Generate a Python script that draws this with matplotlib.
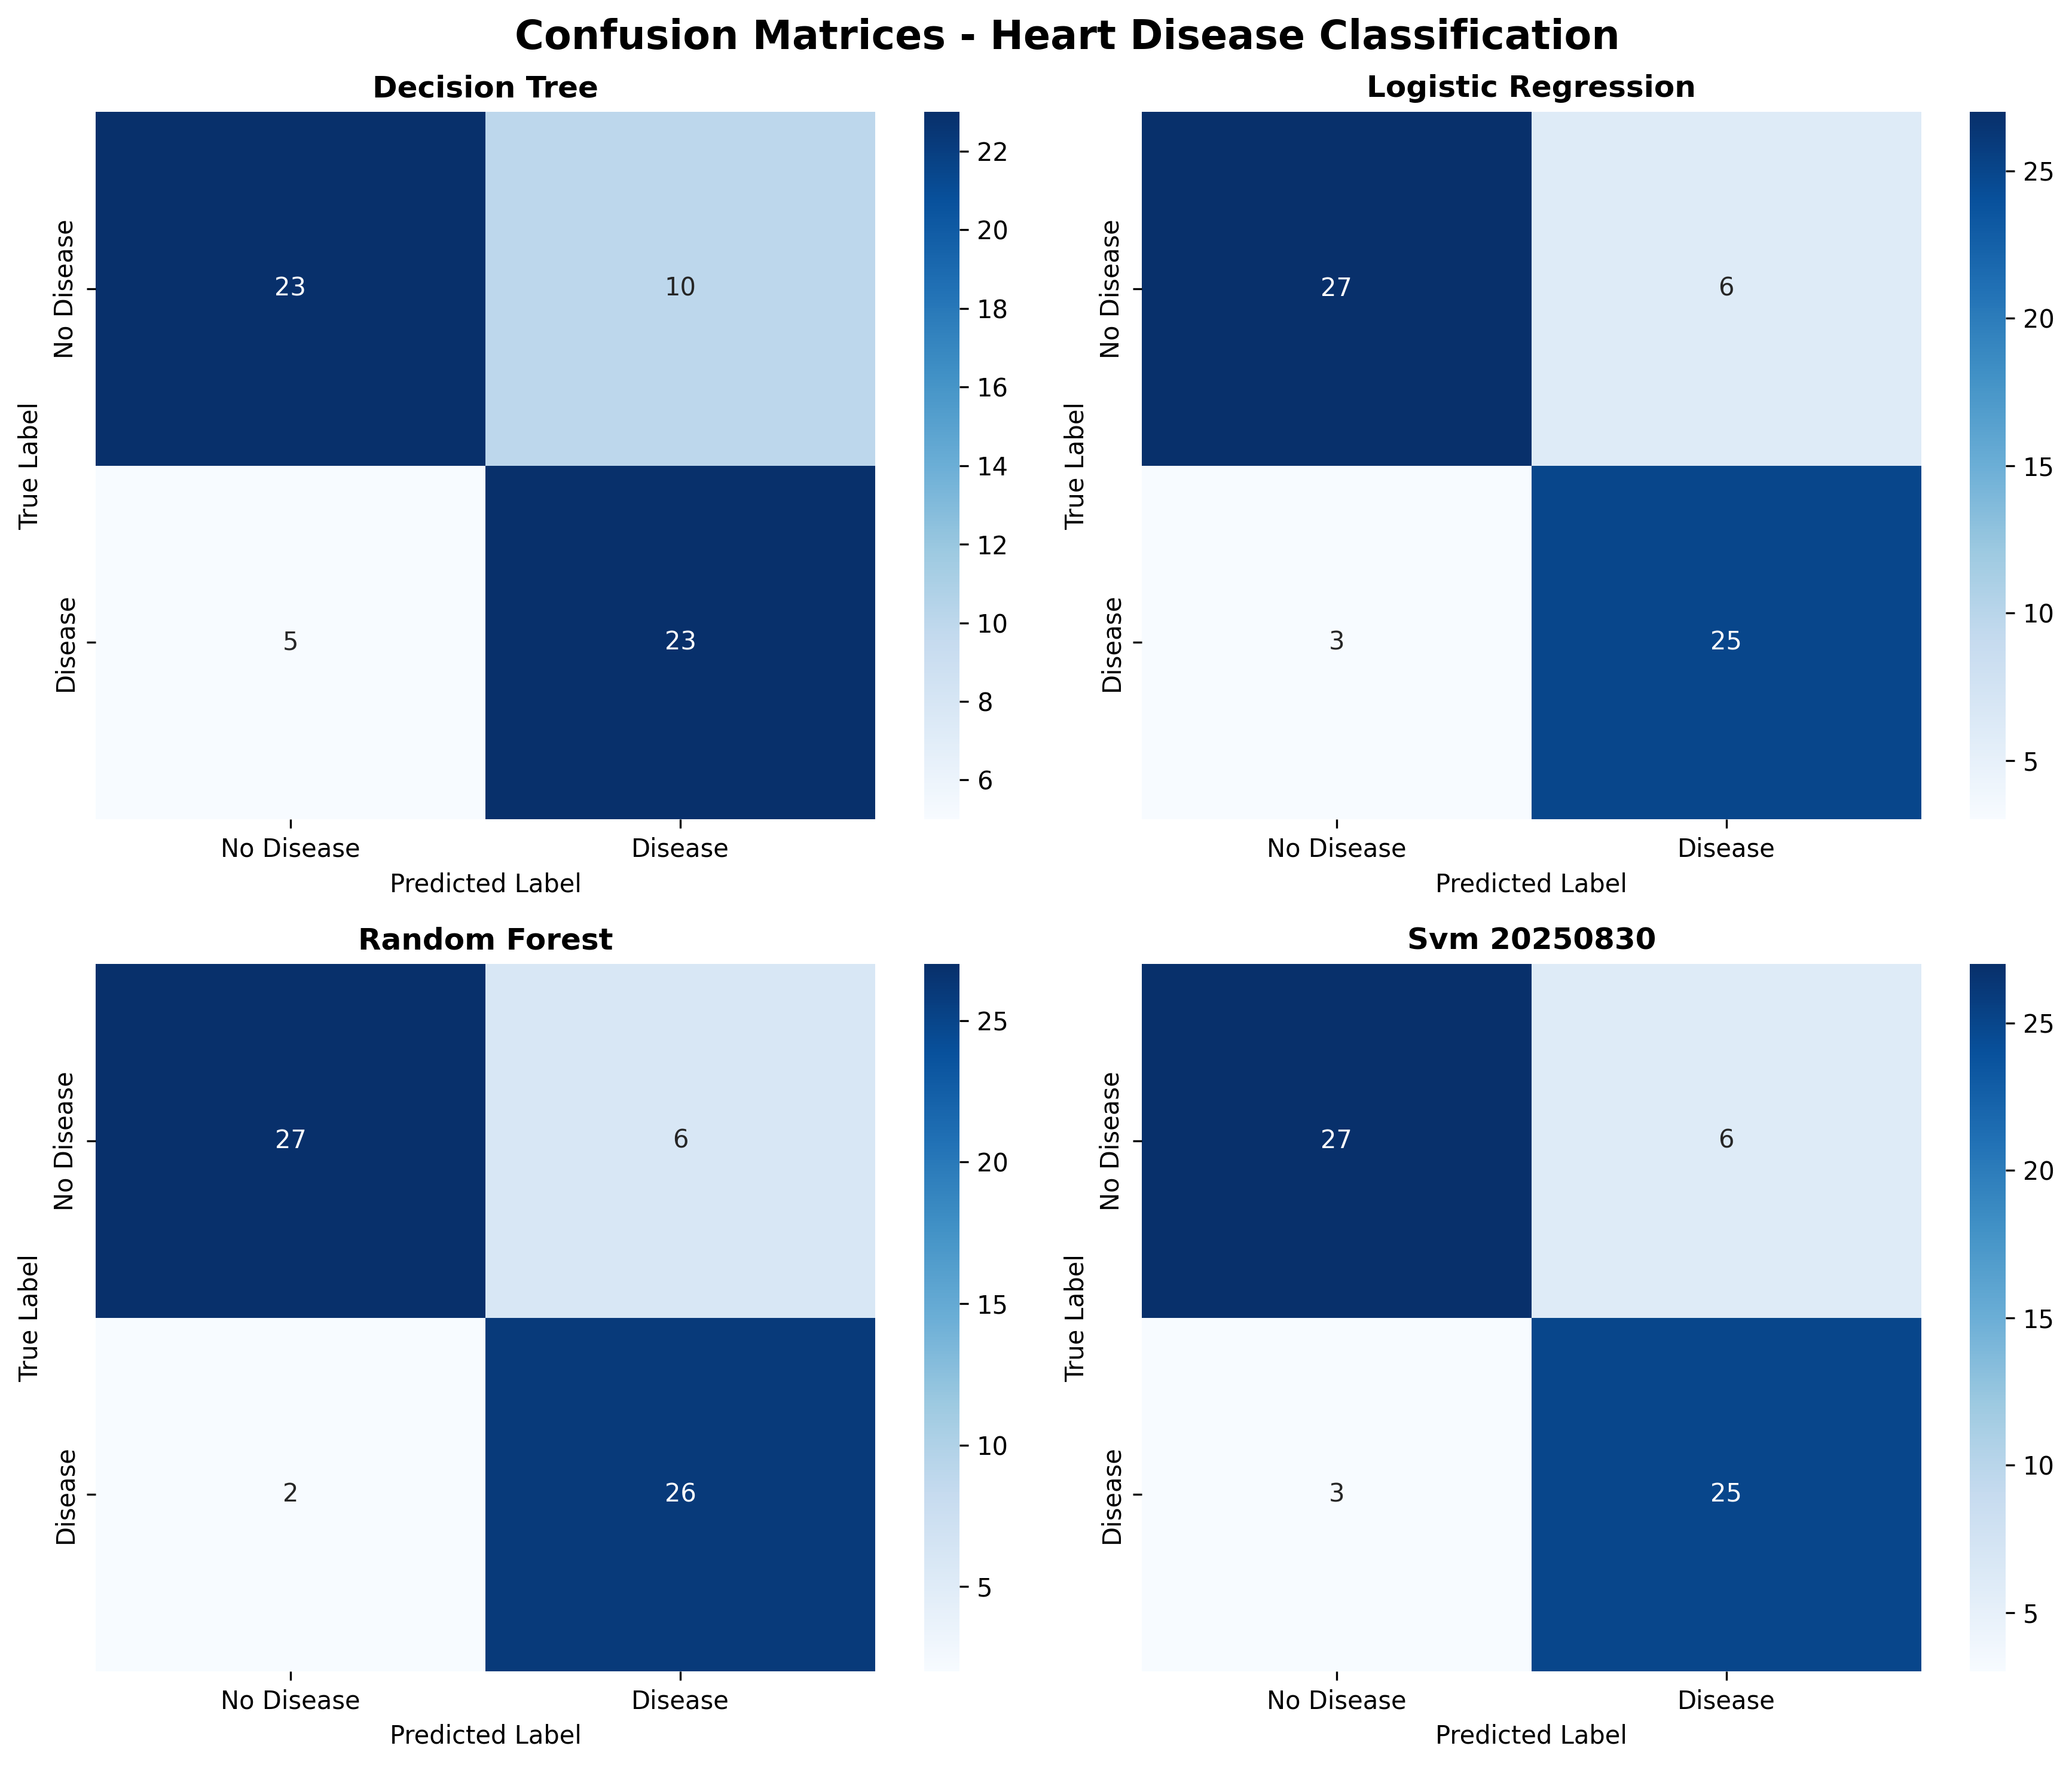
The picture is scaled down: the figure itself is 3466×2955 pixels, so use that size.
import numpy as np
import matplotlib
matplotlib.use("Agg")
import matplotlib.pyplot as plt
import seaborn as sns

models = ["Decision Tree", "Logistic Regression", "Random Forest", "Svm 20250830"]
labels = ["No Disease", "Disease"]

cm_dt = [[23, 10], [5, 23]]
cm_lr = [[27, 6], [3, 25]]
cm_rf = [[27, 6], [2, 26]]
cm_svm = [[27, 6], [3, 25]]
matrices = [cm_dt, cm_lr, cm_rf, cm_svm]

fig, axes = plt.subplots(2, 2, figsize=(12, 10))
fig.suptitle("Confusion Matrices - Heart Disease Classification", fontsize=16, fontweight="bold")

for ax, name, cm in zip(axes.flat, models, matrices):
    sns.heatmap(np.array(cm), annot=True, fmt="d", cmap="Blues", ax=ax,
                xticklabels=labels, yticklabels=labels)
    ax.set_title(name, fontsize=12, fontweight="bold")
    ax.set_xlabel("Predicted Label")
    ax.set_ylabel("True Label")

plt.tight_layout()
plt.savefig("out.png", dpi=300, bbox_inches="tight")
